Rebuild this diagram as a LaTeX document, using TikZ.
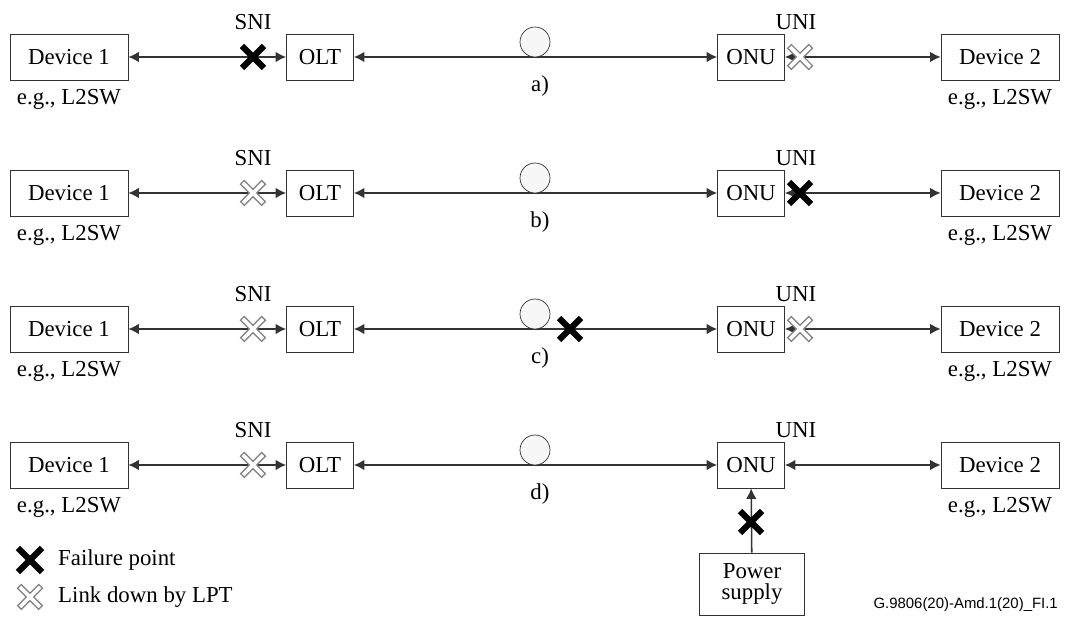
\documentclass[tikz,border=0pt]{standalone}
\usepackage{fontspec}
\setmainfont{Liberation Serif}
\newfontfamily\figidfont{Liberation Sans}
\usetikzlibrary{arrows.meta, positioning}

\begin{document}
\begin{tikzpicture}[
    x=0.02cm, y=-0.02cm,
    every node/.style={font=\fontsize{13}{14}\selectfont},
    box/.style={rectangle, draw=black!80, fill=white, text centered, minimum height=0.92cm, inner sep=2pt},
    device/.style={box, minimum width=2.36cm},
    unit/.style={box, minimum width=1.34cm},
    fibre/.style={circle, draw=black!80, fill=black!3, minimum size=0.6cm, inner sep=0pt},
    link/.style={draw=black!80, line width=0.9pt, <->, >={Latex[length=6pt, width=6pt]}},
    failx/.pic={\draw[line width=3.5pt] (-11,-11) -- (11,11) (-11,11) -- (11,-11);},
    lptx/.pic={\draw[black!50, line width=3.8pt] (-11,-11) -- (11,11) (-11,11) -- (11,-11);
               \draw[white, line width=2.2pt] (-10,-10) -- (10,10) (-10,10) -- (10,-10);}
]
\useasboundingbox (0,0) rectangle (1065,617);

% Rows a) to d)
\foreach \r/\yy in {a/57, b/193, c/329, d/465} {
    \node[device] (dev1\r) at (69,\yy) {Device 1};
    \node[unit] (olt\r) at (320,\yy) {OLT};
    \node[unit] (onu\r) at (751,\yy) {ONU};
    \node[device] (dev2\r) at (1000,\yy) {Device 2};
    \node (eg1\r) at (69,\yy+42) {e.g., L2SW};
    \node (eg2\r) at (1000,\yy+42) {e.g., L2SW};
    \node (sni\r) at (253,\yy-35) {SNI};
    \node (uni\r) at (796,\yy-35) {UNI};
    \draw[link] (dev1\r) -- (olt\r);
    \draw[link] (olt\r) -- (onu\r);
    \draw[link] (onu\r) -- (dev2\r);
    \node[fibre] (fib\r) at (535,\yy-15) {};
    \node (cap\r) at (540,\yy+29) {\r)};
}

% Power supply
\node[box, minimum width=2.1cm, minimum height=1.24cm, text width=2cm, align=center, inner sep=1pt] (power) at (752,584) {Power\\[-2pt]supply};
\draw[link, -{Latex[length=6pt, width=6pt]}] (power) -- (onud);

% Failures
\pic at (253,57) {failx};
\pic at (800,57) {lptx};
\pic at (253,193) {lptx};
\pic at (800,193) {failx};
\pic at (253,329) {lptx};
\pic at (570,329) {failx};
\pic at (800,329) {lptx};
\pic at (253,465) {lptx};
\pic at (751,522) {failx};

% Legend
\pic[scale=1.1] at (30,560) {failx};
\pic at (30,597) {lptx};
\node[anchor=west] (legfail) at (52,560) {Failure point};
\node[anchor=west] (leglpt) at (52,597) {Link down by LPT};

\node[anchor=east, font=\figidfont\fontsize{8.5}{10}\selectfont] (figid) at (1064,605) {G.9806(20)-Amd.1(20)\_FI.1};

\end{tikzpicture}
\end{document}
